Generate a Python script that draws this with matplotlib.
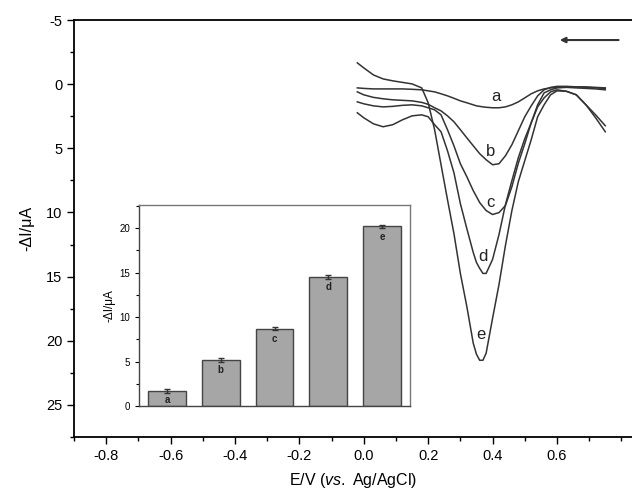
import matplotlib
matplotlib.use('Agg')
import matplotlib.pyplot as plt
from matplotlib.ticker import MultipleLocator

plt.rcParams['font.family'] = ['Liberation Sans', 'DejaVu Sans']
plt.rcParams['mathtext.fontset'] = 'custom'
plt.rcParams['mathtext.rm'] = 'Liberation Sans'
plt.rcParams['mathtext.it'] = 'Liberation Sans:italic'
plt.rcParams['axes.unicode_minus'] = False

# potential grid (V vs Ag/AgCl)
E = [-0.02, 0.00, 0.03, 0.06, 0.09, 0.12, 0.15, 0.18, 0.20, 0.22, 0.24, 0.26,
     0.28, 0.30, 0.32, 0.34, 0.35, 0.36, 0.37, 0.38, 0.40, 0.42, 0.44, 0.46,
     0.48, 0.50, 0.52, 0.54, 0.56, 0.58, 0.60, 0.63, 0.66, 0.69, 0.72, 0.75]

# -dI (uA) for each curve
curve_a = [0.29, 0.33, 0.37, 0.37, 0.37, 0.37, 0.40, 0.44, 0.52, 0.60, 0.75, 0.91,
           1.10, 1.30, 1.45, 1.61, 1.69, 1.73, 1.77, 1.80, 1.84, 1.84, 1.77, 1.61,
           1.38, 1.07, 0.75, 0.52, 0.37, 0.29, 0.25, 0.21, 0.21, 0.21, 0.25, 0.29]
curve_b = [0.60, 0.83, 1.03, 1.14, 1.22, 1.26, 1.30, 1.42, 1.57, 1.84, 2.08, 2.47,
           2.93, 3.55, 4.18, 4.80, 5.11, 5.42, 5.65, 5.89, 6.28, 6.20, 5.58, 4.72,
           3.63, 2.54, 1.69, 0.91, 0.44, 0.25, 0.17, 0.17, 0.21, 0.25, 0.29, 0.33]
curve_c = [1.38, 1.53, 1.69, 1.77, 1.73, 1.65, 1.61, 1.69, 1.84, 2.00, 2.39, 3.55,
           4.80, 6.20, 7.21, 8.30, 8.76, 9.23, 9.54, 9.85, 10.16, 10.01, 9.46, 7.99,
           6.16, 4.64, 3.01, 1.61, 0.68, 0.44, 0.29, 0.25, 0.29, 0.33, 0.37, 0.44]
curve_d = [2.23, 2.62, 3.09, 3.32, 3.16, 2.78, 2.47, 2.39, 2.54, 3.16, 3.71, 5.19,
           6.90, 9.31, 11.25, 13.12, 13.90, 14.36, 14.75, 14.75, 13.66, 11.72, 9.39, 7.52,
           5.73, 4.25, 3.01, 1.77, 1.07, 0.60, 0.44, 0.56, 0.83, 1.61, 2.39, 3.24]
curve_e = [-1.66, -1.27, -0.72, -0.41, -0.26, -0.14, -0.02, 0.29, 1.45, 3.55, 6.28, 9.00,
           11.64, 14.75, 17.32, 20.19, 21.05, 21.52, 21.52, 20.97, 18.25, 15.61, 12.57, 9.85,
           7.60, 5.96, 4.33, 2.54, 1.61, 0.83, 0.52, 0.56, 0.83, 1.61, 2.62, 3.71]
curves = [curve_a, curve_b, curve_c, curve_d, curve_e]
names = ['a', 'b', 'c', 'd', 'e']
label_E = [0.41, 0.394, 0.394, 0.37, 0.363]
label_I = [0.99, 5.26, 9.23, 13.43, 19.5]

# inset bar data
bar_pos = [1, 2, 3, 4, 5]
bar_val = [1.7, 5.2, 8.7, 14.5, 20.2]
bar_err = [0.25, 0.2, 0.15, 0.2, 0.2]

fig = plt.figure(figsize=(6.32, 4.98), dpi=100)
ax = fig.add_axes([0.117, 0.1225, 0.883, 0.8373])

for y in curves:
    ax.plot(E, y, color='#333333', lw=1.1)
for nm, xe, yi in zip(names, label_E, label_I):
    ax.text(xe, yi, nm, fontsize=12, ha='center', va='center', color='#222222')

ax.annotate('', xy=(0.60, -3.44), xytext=(0.80, -3.44),
            arrowprops=dict(arrowstyle='-|>', lw=1.5, color='#333333', mutation_scale=8))

ax.set_xlim(-0.9, 0.833)
ax.set_ylim(27.5, -5)
ax.xaxis.set_major_locator(MultipleLocator(0.2))
ax.xaxis.set_minor_locator(MultipleLocator(0.1))
ax.yaxis.set_major_locator(MultipleLocator(5))
ax.yaxis.set_minor_locator(MultipleLocator(2.5))
ax.tick_params(which='major', direction='out', length=5, width=1, labelsize=10.5)
ax.tick_params(which='minor', direction='out', length=3, width=1)
ax.spines['right'].set_visible(False)
for s in ['left', 'bottom', 'top']:
    ax.spines[s].set_linewidth(1.3)
ax.set_xticks([-0.8, -0.6, -0.4, -0.2, 0.0, 0.2, 0.4, 0.6])
ax.set_xticklabels(['-0.8', '-0.6', '-0.4', '-0.2', '0.0', '0.2', '0.4', '0.6'])
ax.set_xlabel('E/V ($\\it{vs.}$ Ag/AgCl)', fontsize=11.5, labelpad=6)
ax.set_ylabel('-\u0394I/\u03bcA', fontsize=11.5, labelpad=8)

# inset
ins = fig.add_axes([0.22, 0.1847, 0.4288, 0.4036])
ins.bar(bar_pos, bar_val, width=0.7, color='#a6a6a6', edgecolor='#444444', lw=1)
ins.errorbar(bar_pos, bar_val, yerr=bar_err, fmt='none', ecolor='#333333',
             elinewidth=1, capsize=2.5, capthick=1)
for p, v, nm in zip(bar_pos, bar_val, names):
    ins.text(p, max(v - 1.15, 0.7), nm, fontsize=7, fontweight='bold',
             ha='center', va='center', color='#222222')
ins.set_xlim(0.48, 5.52)
ins.set_ylim(0, 22.6)
ins.set_xticks([])
ins.yaxis.set_major_locator(MultipleLocator(5))
ins.yaxis.set_minor_locator(MultipleLocator(2.5))
ins.tick_params(which='major', direction='out', length=3, width=0.8, labelsize=7)
ins.tick_params(which='minor', direction='out', length=2, width=0.8)
for s in ins.spines.values():
    s.set_color('#777777')
    s.set_linewidth(1)
ins.spines['left'].set_color('#444444')
ins.spines['bottom'].set_color('#444444')
ins.set_ylabel('-\u0394I/\u03bcA', fontsize=8.5, labelpad=3)

fig.savefig('out.png', dpi=100)
